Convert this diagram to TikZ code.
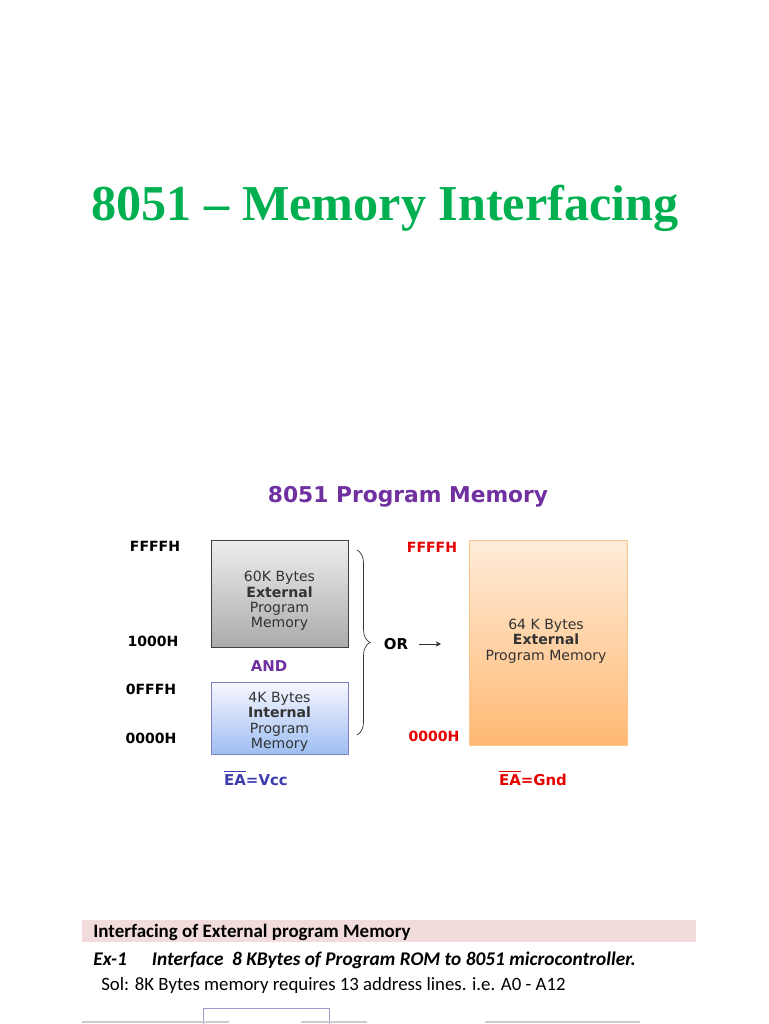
\documentclass[tikz,border=0pt]{standalone}
\usepackage{fontspec}
\setmainfont{DejaVu Sans}
\newfontfamily\titlefont{Liberation Serif}
\newfontfamily\notefont{Carlito}
\usetikzlibrary{positioning, arrows.meta, decorations.pathreplacing}
\definecolor{titlegreen}{RGB}{0,176,80}
\definecolor{progpurple}{RGB}{112,48,160}
\definecolor{addrred}{RGB}{230,0,0}
\definecolor{eablue}{RGB}{60,60,175}
\definecolor{bandpink}{RGB}{242,220,219}
\definecolor{intblue}{RGB}{158,190,242}

\begin{document}
\begin{tikzpicture}[x=0.02cm, y=-0.02cm,
  addr/.style={font=\fontsize{8}{9}\selectfont\bfseries, inner sep=0pt},
  memtext/.style={font=\fontsize{8}{8.8}\selectfont, align=center, inner sep=0pt, text=black!80},
  membox/.style={draw, minimum width=2.74cm, inner sep=0pt},
  note/.style={font=\notefont\fontsize{10.7}{12}\selectfont, anchor=west, inner sep=0pt}
]
  \useasboundingbox (0,0) rectangle (768,1024);

  % slide title
  \node[font=\titlefont\bfseries\fontsize{28.6}{34}\selectfont, text=titlegreen] (title) at (385,208) {8051 – Memory Interfacing};

  \node[font=\bfseries\fontsize{12.4}{14}\selectfont, text=progpurple] (progtitle) at (408,497) {8051 Program Memory};

  % left map: external 60K over internal 4K
  \node[membox, draw=black!75, top color=black!7, bottom color=black!33, minimum height=2.14cm] (extbox) at (279.5,593.5) {};
  \node[memtext] (exttext) at (279.5,601) {60K Bytes\\\textbf{External}\\Program\\Memory};
  \node[membox, draw=blue!35!gray!75, top color=blue!3, bottom color=intblue, minimum height=1.44cm] (intbox) at (279.5,718) {};
  \node[memtext] (inttext) at (279.5,722) {4K Bytes\\\textbf{Internal}\\Program\\Memory};
  \node[addr, font=\fontsize{8.5}{10}\selectfont\bfseries, text=progpurple] (and) at (269,666) {AND};

  \node[addr] (ffffl) at (155,546) {FFFFH};
  \node[addr] (x1000) at (153,641) {1000H};
  \node[addr] (x0fff) at (151,689) {0FFFH};
  \node[addr] (zerol) at (151,738) {0000H};

  \node[font=\fontsize{8.5}{10}\selectfont\color{eablue}\bfseries, inner sep=0pt] (eavcc) at (256,778) {$\overline{\hbox{EA}}$=Vcc};

  \coordinate (bracetop) at (357,550);
  \coordinate (bracebot) at (357,735);
  \draw[black!80, decoration={brace, amplitude=0.26cm}, decorate] (bracetop) -- (bracebot);

  \node[addr, font=\fontsize{8.5}{10}\selectfont\bfseries] (or) at (396,644) {OR};
  \coordinate (orend) at (441,644);
  \draw[-{Stealth[length=3pt, width=3pt]}, black!80] (or.east) ++(6pt,0) -- (orend);

  % right map: full 64K external
  \node[draw=orange!45, top color=orange!15, bottom color=orange!55, minimum width=3.16cm, minimum height=4.1cm, inner sep=0pt] (fullbox) at (548,642.5) {};
  \node[memtext] (fulltext) at (546,641) {64 K Bytes\\\textbf{External}\\Program Memory};
  \node[addr, text=addrred] (ffffr) at (432,547) {FFFFH};
  \node[addr, text=addrred] (zeror) at (434,736) {0000H};
  \node[font=\fontsize{8.5}{10}\selectfont\color{addrred}\bfseries, inner sep=0pt] (eagnd) at (533,778) {$\overline{\hbox{EA}}$=Gnd};

  % example heading
  \node[fill=bandpink, minimum width=12.28cm, minimum height=0.44cm, inner sep=0pt] (band) at (389,931) {};
  \node[note, font=\notefont\bfseries\fontsize{10.8}{12}\selectfont] (bandtext) at (93,932) {Interfacing of External program Memory};
  \node[note, font=\notefont\bfseries\itshape\fontsize{11}{12}\selectfont] (ex1) at (93,960) {Ex-1\hspace{1.3em}Interface\ \ 8 KBytes of Program ROM to 8051 microcontroller.};
  \node[note] (sol) at (101,985) {Sol: 8K Bytes memory requires 13 address lines. i.e. A0 - A12};

  % start of the next drawing, cut by the page edge
  \draw[blue!30!gray!60, line width=0.5pt] (203,1030) |- (329,1008) -- (329,1030);
  \draw[black!20, line width=0.6pt] (82,1022) -- (229,1022) (301,1022) -- (367,1022) (485,1022) -- (640,1022);
\end{tikzpicture}
\end{document}
